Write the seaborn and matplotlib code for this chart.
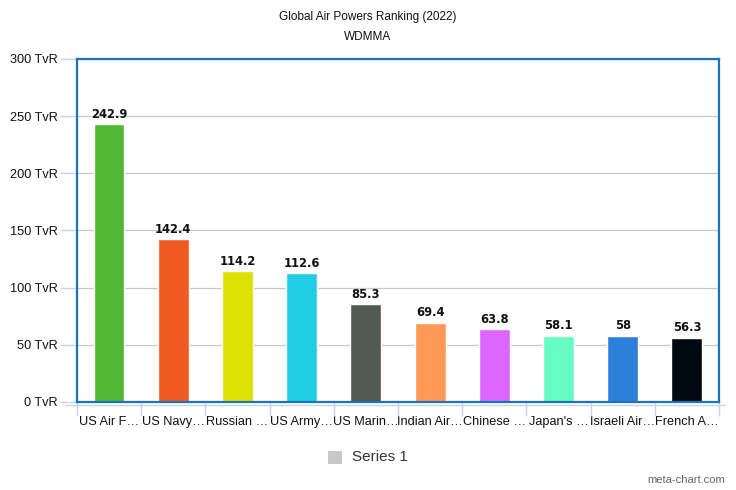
import matplotlib
matplotlib.use("Agg")
import matplotlib.pyplot as plt
import seaborn as sns
import pandas as pd
from matplotlib.patches import Rectangle
from matplotlib.lines import Line2D

categories = ["US Air F\u2026", "US Navy\u2026", "Russian \u2026", "US Army\u2026", "US Marin\u2026",
              "Indian Air\u2026", "Chinese \u2026", "Japan's \u2026", "Israeli Air\u2026", "French A\u2026"]
values = [242.9, 142.4, 114.2, 112.6, 85.3, 69.4, 63.8, 58.1, 58, 56.3]
value_labels = ["242.9", "142.4", "114.2", "112.6", "85.3", "69.4", "63.8", "58.1", "58", "56.3"]
colors = ["#52b733", "#ee5a1f", "#dde000", "#22cce4", "#535a53",
          "#ff9955", "#dd66ff", "#66fcc4", "#2e7fd9", "#000810"]
yticks = [0, 50, 100, 150, 200, 250, 300]
ytick_labels = ["0 TvR", "50 TvR", "100 TvR", "150 TvR", "200 TvR", "250 TvR", "300 TvR"]

sns.set_theme(style="white")
plt.rcParams['font.family'] = ['Liberation Sans', 'DejaVu Sans']

df = pd.DataFrame({"cat": categories, "val": values})
fig = plt.figure(figsize=(7.36, 4.90), dpi=100)
ax = fig.add_axes([0.1046, 0.1796, 0.8723, 0.7000])

sns.barplot(data=df, x="cat", y="val", hue="cat", palette=colors, legend=False,
            width=0.48, ax=ax, saturation=1)

ax.set_ylim(0, 300)
ax.set_xlim(-0.5, len(categories) - 0.5)
ax.set_yticks(yticks)
ax.set_yticklabels(ytick_labels, fontsize=9.2, color="#111111")
ax.set_xticks(range(len(categories)))
ax.set_xticklabels(categories, fontsize=9.2, color="#111111")
ax.set_xlabel("")
ax.set_ylabel("")
ax.yaxis.grid(True, color="#c8c8c8", linewidth=0.9)
ax.set_axisbelow(True)
ax.tick_params(axis="y", left=True, length=12, color="#c5d5e8", width=1, pad=2)
ax.tick_params(axis="x", which="major", bottom=True, length=0, pad=10)
ax.set_xticks([i - 0.5 for i in range(len(categories) + 1)], minor=True)
ax.tick_params(axis="x", which="minor", bottom=True, length=10, color="#c5d5e8", width=1)
for s in ax.spines.values():
    s.set_color("#1a73c0")
    s.set_linewidth(1.6)

# x axis line just below plot area
fig.lines.append(Line2D([65 / 736, 725 / 736], [1 - 405 / 490, 1 - 405 / 490],
                        transform=fig.transFigure, color="#c5d5e8", linewidth=1, figure=fig))

for i, (v, lab) in enumerate(zip(values, value_labels)):
    ax.text(i, v + 3, lab, ha="center", va="bottom", fontsize=8.3, fontweight="bold",
            color="#111111", family="DejaVu Sans")

fig.text(0.5, 0.965, "Global Air Powers Ranking (2022)", ha="center", va="center",
         fontsize=8.5, color="#111111")
fig.text(0.5, 0.924, "WDMMA", ha="center", va="center", fontsize=8.5, color="#111111")

fig.patches.append(Rectangle((328 / 736, 1 - 464 / 490), 14 / 736, 13 / 490,
                             transform=fig.transFigure, facecolor="#c8c8c8",
                             edgecolor="none", figure=fig))
fig.text(352 / 736, 1 - 457 / 490, "Series 1", ha="left", va="center", fontsize=11,
         color="#333333")
fig.text(725 / 736, 1 - 480 / 490, "meta-chart.com", ha="right", va="center",
         fontsize=8, color="#666666")

fig.savefig("out.png", dpi=100)
